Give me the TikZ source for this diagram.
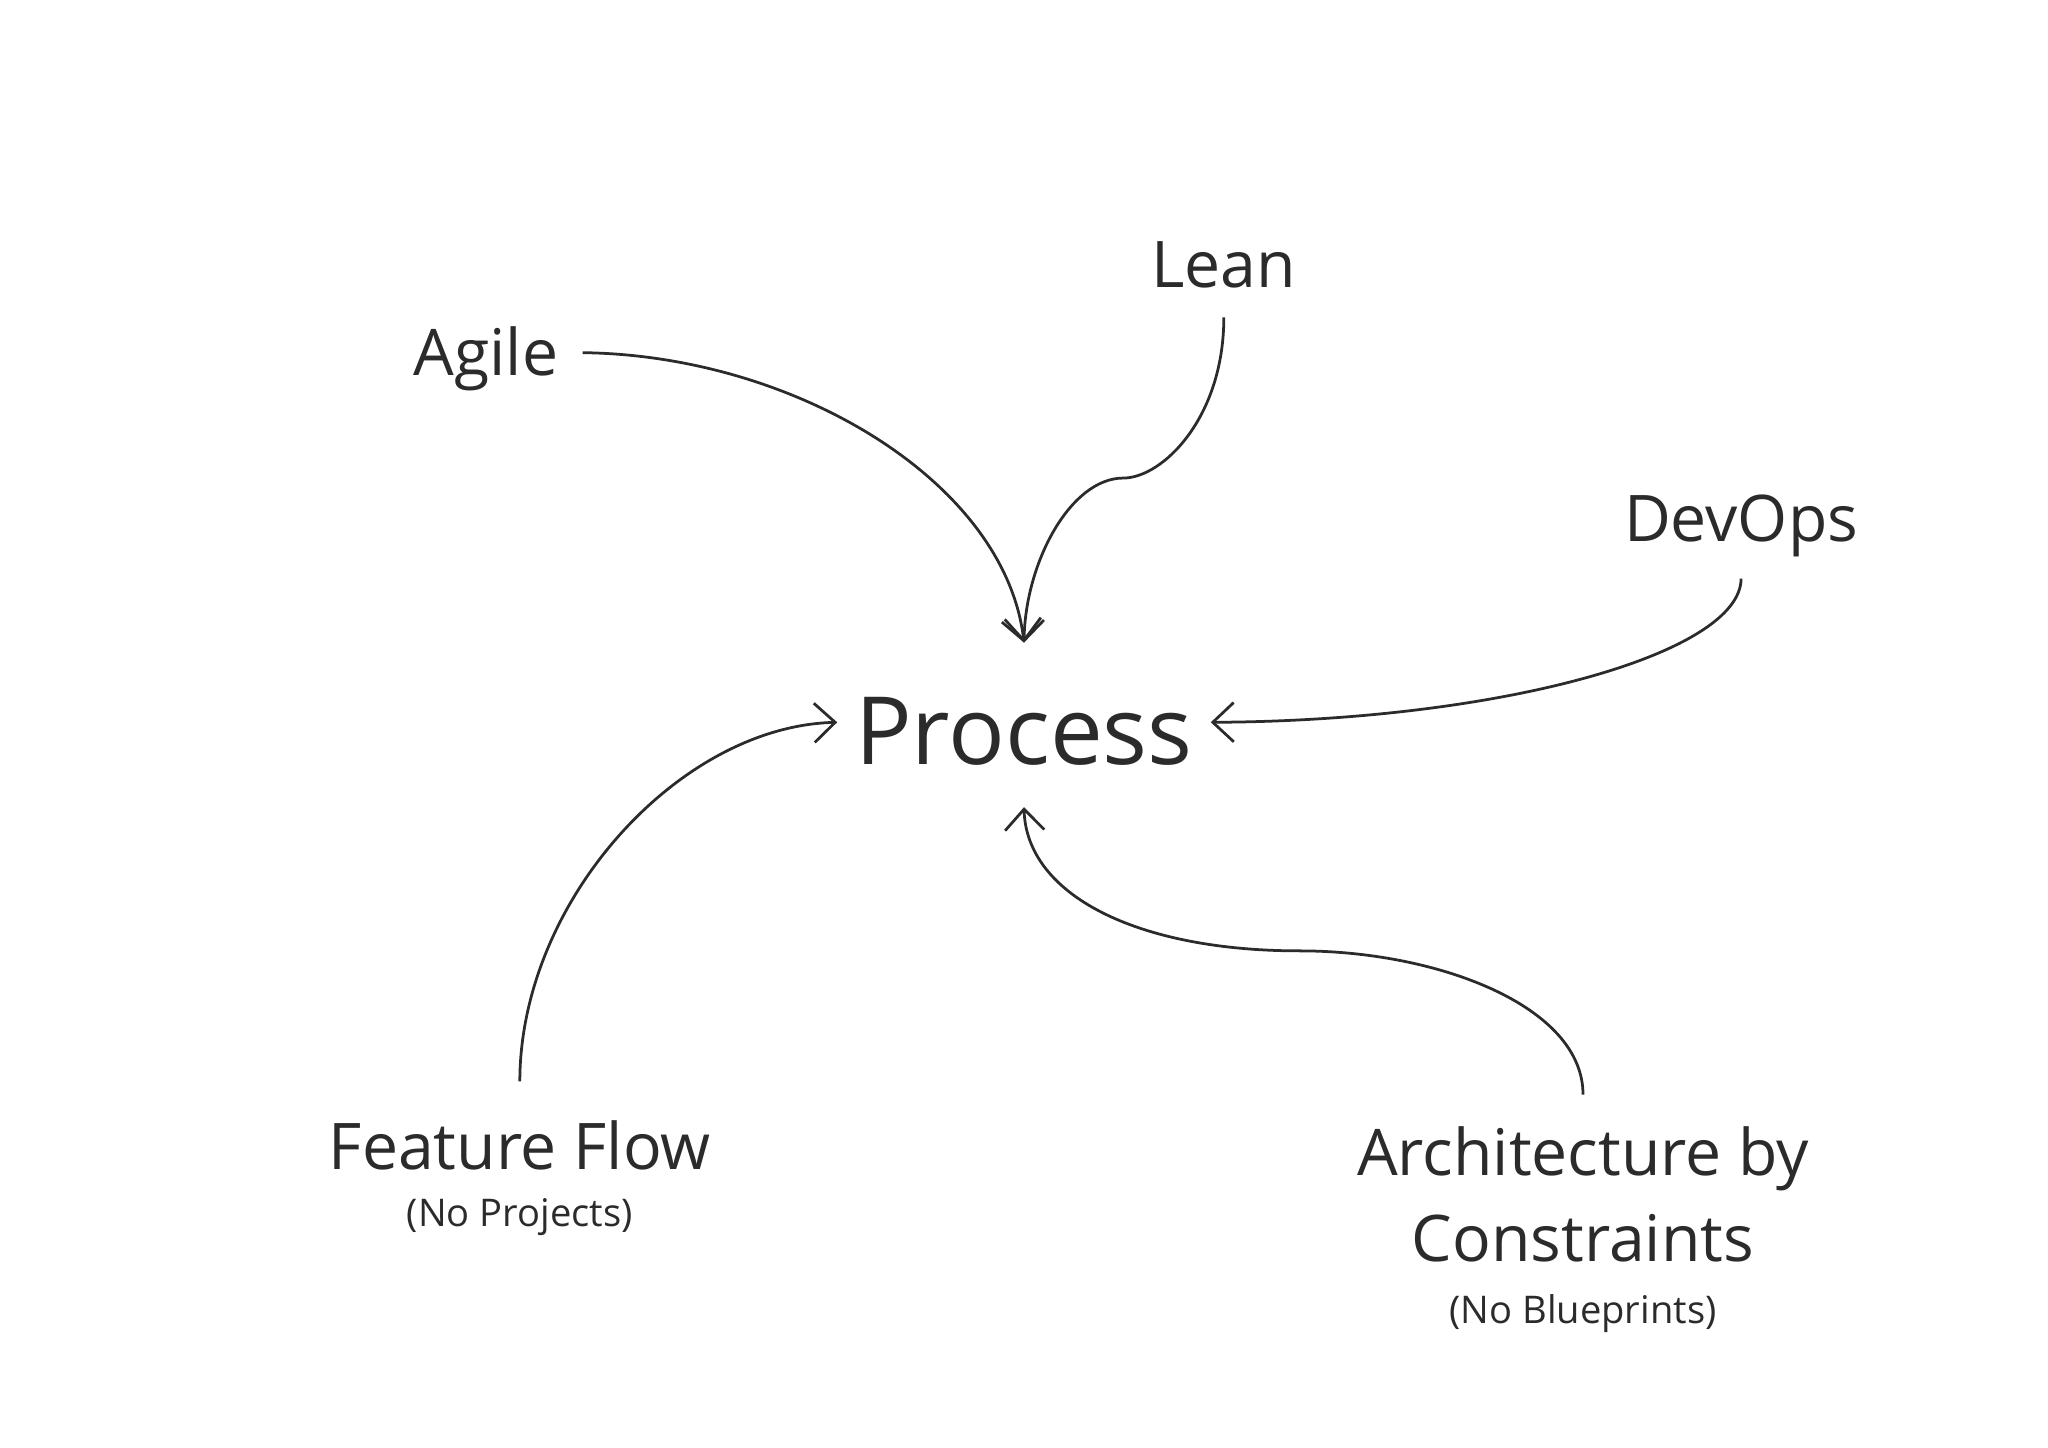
\documentclass[tikz,border=0pt]{standalone}
\usepackage{fontspec}
\setmainfont{Open Sans}
\usetikzlibrary{arrows.meta}
\definecolor{ink}{HTML}{2B2B2B}
\begin{document}
\begin{tikzpicture}[x=0.01cm,y=-0.01cm,
  lbl/.style={text=ink,font=\fontsize{14}{17}\selectfont,inner sep=0pt},
  sub/.style={text=ink,font=\fontsize{8.3}{10}\selectfont,inner sep=0pt},
  con/.style={draw=ink,line width=0.6pt,-{Straight Barb[length=1.6mm,width=3mm]}}]
\useasboundingbox (0,0) rectangle (1568,1108);
\node[text=ink,font=\fontsize{20.5}{24}\selectfont,inner sep=0pt] (p) at (784,560) {Process};
\node[lbl] (agile) at (372,275) {Agile};
\node[lbl] (lean) at (937,203) {Lean};
\node[lbl] (devops) at (1333,403) {DevOps};
\node[lbl] (ff) at (398,877) {Feature Flow};
\node[sub] (ffs) at (398,932) {(No Projects)};
\node[lbl] (arch) at (1212,887) {Architecture by};
\node[lbl] (arch2) at (1212,948) {Constraints};
\node[sub] (archs) at (1212,1006) {(No Blueprints)};
\coordinate (top) at (784,492);
\coordinate (right) at (927,553);
\coordinate (left) at (641,553);
\coordinate (bot) at (784,618);
\draw[con] (446,270) .. controls (610,272) and (770,370) .. (top);
\draw[con] (937,243) .. controls (937,320) and (890,366) .. (860,366) .. controls (820,366) and (785,430) .. (top);
\draw[con] (1333,443) .. controls (1333,500) and (1150,552) .. (right);
\draw[con] (398,828) .. controls (398,690) and (520,556) .. (left);
\draw[con] (1212,838) .. controls (1212,770) and (1100,728) .. (995,728) .. controls (870,728) and (786,685) .. (bot);
\end{tikzpicture}
\end{document}
